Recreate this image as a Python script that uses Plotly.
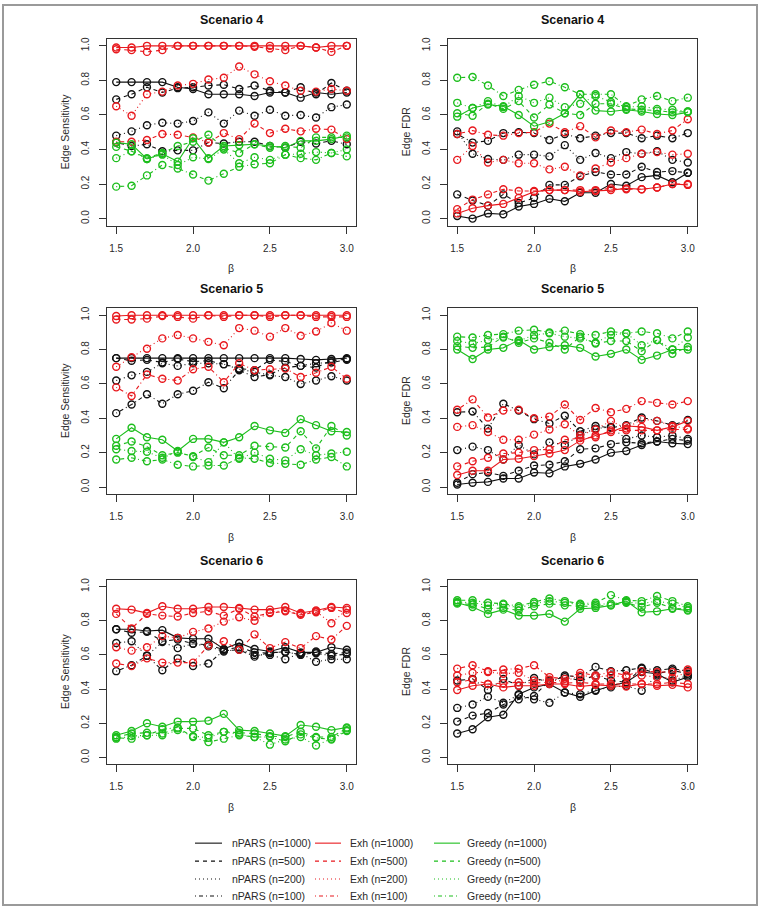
import plotly.graph_objects as go

BETA = [1.5, 1.6, 1.7, 1.8, 1.9, 2.0, 2.1, 2.2, 2.3, 2.4, 2.5, 2.6, 2.7, 2.8, 2.9, 3.0]
SAMPLE_SIZES = [1000, 500, 200, 100]
METHODS = ["nPARS", "Exh", "Greedy"]
Y_TICKS = [0.0, 0.2, 0.4, 0.6, 0.8, 1.0]
Y_TICK_TEXT = ["0.0", "0.2", "0.4", "0.6", "0.8", "1.0"]
X_TICKS = [1.5, 2.0, 2.5, 3.0]
X_TICK_TEXT = ["1.5", "2.0", "2.5", "3.0"]

# each list: rows for n=1000, 500, 200, 100
S4_SENS_NPARS = [
    [0.79, 0.79, 0.79, 0.79, 0.76, 0.75, 0.72, 0.72, 0.72, 0.71, 0.73, 0.73, 0.70, 0.73, 0.72, 0.73],
    [0.69, 0.72, 0.76, 0.73, 0.755, 0.76, 0.77, 0.775, 0.75, 0.77, 0.74, 0.73, 0.76, 0.72, 0.785, 0.74],
    [0.48, 0.505, 0.54, 0.555, 0.55, 0.565, 0.615, 0.55, 0.625, 0.595, 0.63, 0.595, 0.60, 0.585, 0.645, 0.66],
    [0.44, 0.42, 0.43, 0.39, 0.395, 0.395, 0.44, 0.435, 0.445, 0.445, 0.42, 0.41, 0.445, 0.435, 0.45, 0.43],
]
S4_SENS_EXH = [
    [0.99, 0.99, 1.0, 1.0, 1.0, 1.0, 1.0, 1.0, 1.0, 1.0, 1.0, 1.0, 1.0, 0.99, 1.0, 1.0],
    [0.98, 0.975, 0.965, 0.975, 1.0, 1.0, 1.0, 1.0, 1.0, 0.995, 0.985, 0.975, 1.0, 0.99, 0.965, 1.0],
    [0.65, 0.595, 0.72, 0.735, 0.77, 0.78, 0.805, 0.815, 0.88, 0.835, 0.795, 0.77, 0.74, 0.735, 0.75, 0.74],
    [0.445, 0.445, 0.455, 0.49, 0.485, 0.47, 0.44, 0.495, 0.46, 0.55, 0.495, 0.52, 0.505, 0.52, 0.515, 0.46],
]
S4_SENS_GREEDY = [
    [0.44, 0.43, 0.345, 0.375, 0.33, 0.465, 0.35, 0.42, 0.425, 0.43, 0.42, 0.41, 0.45, 0.45, 0.46, 0.48],
    [0.415, 0.39, 0.35, 0.38, 0.42, 0.445, 0.485, 0.41, 0.38, 0.43, 0.41, 0.42, 0.41, 0.47, 0.47, 0.47],
    [0.35, 0.39, 0.345, 0.37, 0.31, 0.355, 0.345, 0.40, 0.32, 0.355, 0.34, 0.37, 0.375, 0.385, 0.38, 0.40],
    [0.185, 0.19, 0.25, 0.31, 0.29, 0.255, 0.22, 0.26, 0.30, 0.315, 0.32, 0.37, 0.35, 0.34, 0.38, 0.36],
]
S4_FDR_NPARS = [
    [0.015, 0.0, 0.03, 0.025, 0.07, 0.085, 0.115, 0.10, 0.15, 0.15, 0.20, 0.19, 0.24, 0.25, 0.21, 0.265],
    [0.14, 0.105, 0.075, 0.14, 0.09, 0.12, 0.195, 0.195, 0.245, 0.27, 0.255, 0.255, 0.30, 0.27, 0.275, 0.265],
    [0.505, 0.375, 0.345, 0.34, 0.37, 0.37, 0.36, 0.425, 0.34, 0.38, 0.35, 0.385, 0.375, 0.39, 0.34, 0.325],
    [0.49, 0.44, 0.45, 0.495, 0.50, 0.495, 0.455, 0.49, 0.465, 0.48, 0.495, 0.495, 0.465, 0.48, 0.465, 0.495],
]
S4_FDR_EXH = [
    [0.03, 0.06, 0.075, 0.085, 0.12, 0.155, 0.165, 0.165, 0.155, 0.16, 0.165, 0.175, 0.17, 0.18, 0.20, 0.195],
    [0.055, 0.11, 0.14, 0.17, 0.16, 0.16, 0.165, 0.165, 0.165, 0.165, 0.175, 0.17, 0.17, 0.18, 0.20, 0.20],
    [0.34, 0.42, 0.325, 0.34, 0.32, 0.32, 0.285, 0.30, 0.25, 0.29, 0.325, 0.35, 0.375, 0.385, 0.37, 0.375],
    [0.49, 0.51, 0.485, 0.48, 0.495, 0.50, 0.55, 0.50, 0.535, 0.47, 0.51, 0.50, 0.515, 0.49, 0.51, 0.575],
]
S4_FDR_GREEDY = [
    [0.59, 0.64, 0.66, 0.65, 0.60, 0.535, 0.56, 0.61, 0.72, 0.625, 0.62, 0.63, 0.62, 0.605, 0.60, 0.615],
    [0.61, 0.595, 0.665, 0.635, 0.68, 0.585, 0.66, 0.61, 0.60, 0.665, 0.665, 0.635, 0.63, 0.625, 0.615, 0.62],
    [0.67, 0.64, 0.68, 0.645, 0.71, 0.67, 0.70, 0.645, 0.665, 0.71, 0.675, 0.645, 0.65, 0.635, 0.63, 0.62],
    [0.815, 0.82, 0.77, 0.71, 0.745, 0.775, 0.795, 0.76, 0.72, 0.72, 0.72, 0.65, 0.69, 0.71, 0.68, 0.70],
]
S5_SENS_NPARS = [
    [0.75, 0.75, 0.75, 0.75, 0.75, 0.75, 0.75, 0.75, 0.75, 0.75, 0.75, 0.75, 0.745, 0.74, 0.745, 0.75],
    [0.75, 0.735, 0.74, 0.725, 0.745, 0.73, 0.735, 0.715, 0.69, 0.68, 0.74, 0.73, 0.705, 0.695, 0.735, 0.745],
    [0.62, 0.65, 0.67, 0.72, 0.705, 0.72, 0.72, 0.715, 0.685, 0.67, 0.65, 0.64, 0.60, 0.62, 0.645, 0.62],
    [0.43, 0.48, 0.54, 0.485, 0.54, 0.56, 0.61, 0.575, 0.68, 0.64, 0.655, 0.695, 0.705, 0.72, 0.725, 0.74],
]
S5_SENS_EXH = [
    [0.995, 1.0, 1.0, 1.0, 1.0, 1.0, 1.0, 1.0, 1.0, 1.0, 1.0, 1.0, 1.0, 1.0, 1.0, 1.0],
    [0.975, 0.975, 0.98, 0.995, 0.99, 0.98, 1.0, 0.99, 1.0, 1.0, 0.99, 1.0, 1.0, 0.99, 0.99, 0.99],
    [0.70, 0.755, 0.805, 0.865, 0.885, 0.865, 0.845, 0.825, 0.925, 0.91, 0.875, 0.925, 0.88, 0.905, 0.955, 0.91],
    [0.58, 0.53, 0.655, 0.63, 0.62, 0.685, 0.70, 0.61, 0.72, 0.68, 0.685, 0.69, 0.64, 0.665, 0.70, 0.63],
]
S5_SENS_GREEDY = [
    [0.28, 0.345, 0.29, 0.275, 0.21, 0.28, 0.28, 0.26, 0.29, 0.355, 0.33, 0.315, 0.395, 0.36, 0.325, 0.32],
    [0.24, 0.265, 0.235, 0.185, 0.20, 0.18, 0.23, 0.185, 0.185, 0.24, 0.235, 0.23, 0.325, 0.225, 0.355, 0.30],
    [0.22, 0.21, 0.205, 0.17, 0.205, 0.175, 0.145, 0.26, 0.165, 0.20, 0.165, 0.155, 0.22, 0.185, 0.195, 0.205],
    [0.16, 0.17, 0.15, 0.16, 0.13, 0.12, 0.125, 0.125, 0.17, 0.165, 0.14, 0.135, 0.13, 0.16, 0.175, 0.12],
]
S5_FDR_NPARS = [
    [0.015, 0.025, 0.03, 0.05, 0.05, 0.085, 0.08, 0.12, 0.135, 0.16, 0.20, 0.21, 0.245, 0.265, 0.255, 0.25],
    [0.025, 0.075, 0.085, 0.065, 0.095, 0.125, 0.13, 0.15, 0.22, 0.225, 0.25, 0.26, 0.255, 0.265, 0.28, 0.27],
    [0.215, 0.235, 0.215, 0.16, 0.245, 0.19, 0.26, 0.245, 0.305, 0.34, 0.35, 0.28, 0.30, 0.29, 0.30, 0.28],
    [0.435, 0.44, 0.34, 0.485, 0.445, 0.395, 0.37, 0.415, 0.325, 0.355, 0.345, 0.36, 0.405, 0.385, 0.36, 0.39],
]
S5_FDR_EXH = [
    [0.07, 0.095, 0.095, 0.16, 0.165, 0.18, 0.195, 0.215, 0.27, 0.30, 0.32, 0.355, 0.35, 0.33, 0.35, 0.385],
    [0.12, 0.15, 0.17, 0.195, 0.20, 0.215, 0.22, 0.275, 0.285, 0.29, 0.33, 0.33, 0.33, 0.33, 0.335, 0.335],
    [0.35, 0.36, 0.32, 0.275, 0.275, 0.305, 0.335, 0.365, 0.30, 0.335, 0.385, 0.34, 0.395, 0.385, 0.355, 0.34],
    [0.45, 0.51, 0.405, 0.445, 0.45, 0.40, 0.41, 0.48, 0.39, 0.46, 0.435, 0.455, 0.50, 0.49, 0.48, 0.50],
]
S5_FDR_GREEDY = [
    [0.80, 0.745, 0.80, 0.81, 0.855, 0.80, 0.815, 0.825, 0.81, 0.76, 0.775, 0.80, 0.74, 0.765, 0.80, 0.80],
    [0.82, 0.81, 0.815, 0.875, 0.84, 0.865, 0.84, 0.80, 0.875, 0.835, 0.85, 0.85, 0.79, 0.855, 0.775, 0.815],
    [0.85, 0.835, 0.855, 0.87, 0.85, 0.885, 0.895, 0.875, 0.865, 0.84, 0.885, 0.895, 0.825, 0.855, 0.80, 0.87],
    [0.875, 0.87, 0.885, 0.89, 0.91, 0.915, 0.90, 0.91, 0.89, 0.885, 0.905, 0.895, 0.905, 0.895, 0.865, 0.905],
]
S6_SENS_NPARS = [
    [0.75, 0.75, 0.74, 0.745, 0.70, 0.695, 0.695, 0.635, 0.67, 0.635, 0.62, 0.645, 0.615, 0.615, 0.645, 0.63],
    [0.75, 0.73, 0.735, 0.68, 0.69, 0.665, 0.66, 0.63, 0.645, 0.615, 0.61, 0.62, 0.60, 0.62, 0.605, 0.615],
    [0.67, 0.68, 0.595, 0.675, 0.64, 0.665, 0.65, 0.62, 0.635, 0.60, 0.60, 0.575, 0.61, 0.56, 0.575, 0.575],
    [0.505, 0.54, 0.595, 0.51, 0.58, 0.535, 0.55, 0.625, 0.63, 0.59, 0.615, 0.615, 0.605, 0.61, 0.595, 0.605],
]
S6_SENS_EXH = [
    [0.87, 0.865, 0.845, 0.885, 0.87, 0.87, 0.88, 0.88, 0.875, 0.865, 0.865, 0.88, 0.845, 0.86, 0.88, 0.875],
    [0.84, 0.755, 0.84, 0.83, 0.825, 0.845, 0.855, 0.83, 0.87, 0.825, 0.845, 0.855, 0.835, 0.85, 0.875, 0.845],
    [0.645, 0.625, 0.645, 0.71, 0.70, 0.735, 0.755, 0.795, 0.82, 0.80, 0.85, 0.86, 0.84, 0.855, 0.785, 0.865],
    [0.55, 0.535, 0.58, 0.555, 0.555, 0.555, 0.655, 0.68, 0.63, 0.72, 0.64, 0.675, 0.64, 0.71, 0.69, 0.77],
]
S6_SENS_GREEDY = [
    [0.13, 0.155, 0.20, 0.18, 0.21, 0.21, 0.215, 0.255, 0.16, 0.155, 0.14, 0.125, 0.19, 0.18, 0.16, 0.175],
    [0.12, 0.14, 0.145, 0.14, 0.17, 0.17, 0.13, 0.15, 0.145, 0.14, 0.125, 0.12, 0.15, 0.12, 0.12, 0.17],
    [0.11, 0.125, 0.13, 0.13, 0.16, 0.125, 0.115, 0.15, 0.135, 0.12, 0.075, 0.105, 0.12, 0.07, 0.11, 0.16],
    [0.115, 0.11, 0.13, 0.165, 0.175, 0.12, 0.09, 0.11, 0.13, 0.12, 0.12, 0.095, 0.135, 0.115, 0.105, 0.155],
]
S6_FDR_NPARS = [
    [0.14, 0.165, 0.235, 0.25, 0.37, 0.41, 0.43, 0.38, 0.355, 0.39, 0.42, 0.44, 0.50, 0.49, 0.44, 0.47],
    [0.21, 0.245, 0.26, 0.31, 0.34, 0.36, 0.45, 0.47, 0.45, 0.48, 0.45, 0.44, 0.52, 0.49, 0.51, 0.49],
    [0.29, 0.31, 0.355, 0.32, 0.365, 0.34, 0.32, 0.38, 0.37, 0.395, 0.41, 0.42, 0.39, 0.48, 0.45, 0.48],
    [0.45, 0.46, 0.395, 0.46, 0.42, 0.465, 0.44, 0.48, 0.47, 0.53, 0.505, 0.51, 0.525, 0.51, 0.52, 0.505],
]
S6_FDR_EXH = [
    [0.395, 0.42, 0.43, 0.41, 0.42, 0.42, 0.43, 0.43, 0.415, 0.425, 0.42, 0.415, 0.43, 0.42, 0.425, 0.41],
    [0.44, 0.455, 0.43, 0.435, 0.44, 0.435, 0.44, 0.435, 0.44, 0.43, 0.43, 0.43, 0.43, 0.43, 0.44, 0.43],
    [0.48, 0.495, 0.50, 0.49, 0.495, 0.45, 0.455, 0.445, 0.48, 0.47, 0.48, 0.47, 0.48, 0.47, 0.465, 0.50],
    [0.52, 0.54, 0.505, 0.515, 0.52, 0.54, 0.47, 0.46, 0.495, 0.48, 0.50, 0.48, 0.505, 0.50, 0.50, 0.515],
]
S6_FDR_GREEDY = [
    [0.905, 0.88, 0.84, 0.865, 0.83, 0.83, 0.84, 0.795, 0.87, 0.875, 0.89, 0.915, 0.85, 0.855, 0.87, 0.86],
    [0.90, 0.895, 0.87, 0.875, 0.86, 0.885, 0.90, 0.89, 0.885, 0.885, 0.89, 0.905, 0.88, 0.905, 0.875, 0.865],
    [0.91, 0.905, 0.89, 0.895, 0.875, 0.90, 0.915, 0.905, 0.895, 0.895, 0.90, 0.91, 0.90, 0.915, 0.90, 0.875],
    [0.92, 0.92, 0.905, 0.90, 0.885, 0.91, 0.93, 0.915, 0.90, 0.905, 0.95, 0.92, 0.915, 0.945, 0.915, 0.885],
]

PANELS = [
    ("Scenario 4", "Edge Sensitivity", [S4_SENS_NPARS, S4_SENS_EXH, S4_SENS_GREEDY]),
    ("Scenario 4", "Edge FDR", [S4_FDR_NPARS, S4_FDR_EXH, S4_FDR_GREEDY]),
    ("Scenario 5", "Edge Sensitivity", [S5_SENS_NPARS, S5_SENS_EXH, S5_SENS_GREEDY]),
    ("Scenario 5", "Edge FDR", [S5_FDR_NPARS, S5_FDR_EXH, S5_FDR_GREEDY]),
    ("Scenario 6", "Edge Sensitivity", [S6_SENS_NPARS, S6_SENS_EXH, S6_SENS_GREEDY]),
    ("Scenario 6", "Edge FDR", [S6_FDR_NPARS, S6_FDR_EXH, S6_FDR_GREEDY]),
]

# ---- styling / layout ----
W, H = 760, 908
COLORS = ["#111111", "#E8191E", "#1DBE1D"]
# R-style line types: solid, dashed, dotted, dotdash
DASHES = ["solid", "4px,4px", "1px,3px", "1px,3px,4px,3px"]
FONT = "Liberation Sans, Arial, sans-serif"
TEXT_COLOR = "#2a2a2a"

COL_PX = [(107, 356), (448, 697)]
ROW_PX = [(37, 224), (307, 493), (579, 764)]


def px_x(p):
    return p / W


def px_y(p):
    return 1 - p / H


fig = go.Figure()
annotations = []
shapes = []

for i, (title, ylab, groups) in enumerate(PANELS):
    r, c = divmod(i, 2)
    (x0, x1), (y0, y1) = COL_PX[c], ROW_PX[r]
    sfx = "" if i == 0 else str(i + 1)
    for m, rows in enumerate(groups):
        for k, vals in enumerate(rows):
            fig.add_trace(go.Scatter(
                x=BETA, y=vals, mode="lines+markers",
                name=f"{METHODS[m]} (n={SAMPLE_SIZES[k]})",
                xaxis="x" + sfx, yaxis="y" + sfx,
                line=dict(color=COLORS[m], width=1.1, dash=DASHES[k]),
                marker=dict(symbol="circle-open", size=7, color=COLORS[m],
                            line=dict(width=1.4, color=COLORS[m])),
                showlegend=False, hoverinfo="skip",
            ))
    axis_common = dict(showline=True, mirror=True, linecolor="#333", linewidth=1,
                       ticks="outside", ticklen=7, tickcolor="#333", tickwidth=1,
                       showgrid=False, zeroline=False,
                       tickfont=dict(family=FONT, size=10, color=TEXT_COLOR))
    fig.layout["xaxis" + sfx] = dict(
        domain=[px_x(x0), px_x(x1)], anchor="y" + sfx, range=[1.44, 3.06],
        tickvals=X_TICKS, ticktext=X_TICK_TEXT, ticklabelstandoff=6, **axis_common)
    fig.layout["yaxis" + sfx] = dict(
        domain=[px_y(y1), px_y(y0)], anchor="x" + sfx, range=[-0.04, 1.04],
        tickvals=Y_TICKS, ticktext=Y_TICK_TEXT, tickangle=-90, ticklabelstandoff=6, **axis_common)
    annotations.append(dict(text="<b>" + title + "</b>", x=px_x((x0 + x1) / 2), y=px_y(y0 - 19),
                            xref="paper", yref="paper", showarrow=False, xanchor="center", yanchor="middle",
                            font=dict(family=FONT, size=12.5, color="#111")))
    annotations.append(dict(text="β", x=px_x((x0 + x1) / 2), y=px_y(y1 + 43),
                            xref="paper", yref="paper", showarrow=False, xanchor="center", yanchor="middle",
                            font=dict(family=FONT, size=10.5, color=TEXT_COLOR)))
    annotations.append(dict(text=ylab, x=px_x(x0 - 42), y=px_y((y0 + y1) / 2), textangle=-90,
                            xref="paper", yref="paper", showarrow=False, xanchor="center", yanchor="middle",
                            font=dict(family=FONT, size=10.5, color=TEXT_COLOR)))

# legend (three columns, one per method)
LEG_LINE_PX = [(195, 222), (315, 341), (434, 460)]
LEG_TEXT_PX = [230, 348, 465]
LEG_ROW_PX = [843, 861, 879, 896]
for m, meth in enumerate(METHODS):
    for k, n in enumerate(SAMPLE_SIZES):
        yy = px_y(LEG_ROW_PX[k])
        shapes.append(dict(type="line", xref="paper", yref="paper",
                           x0=px_x(LEG_LINE_PX[m][0]), x1=px_x(LEG_LINE_PX[m][1]), y0=yy, y1=yy,
                           line=dict(color=COLORS[m], width=1.1, dash=DASHES[k])))
        annotations.append(dict(text=f"{meth} (n={n})", x=px_x(LEG_TEXT_PX[m]), y=yy,
                                xref="paper", yref="paper", showarrow=False,
                                xanchor="left", yanchor="middle",
                                font=dict(family=FONT, size=10.5, color=TEXT_COLOR)))

shapes.append(dict(type="rect", xref="paper", yref="paper", x0=px_x(3), x1=px_x(757),
                   y0=px_y(905), y1=px_y(3), line=dict(color="#9a9a9a", width=2)))

fig.update_layout(
    width=W, height=H, margin=dict(l=0, r=0, t=0, b=0),
    paper_bgcolor="white", plot_bgcolor="white",
    showlegend=False,
    annotations=annotations,
    shapes=shapes,
)

fig.write_html("out.html")
